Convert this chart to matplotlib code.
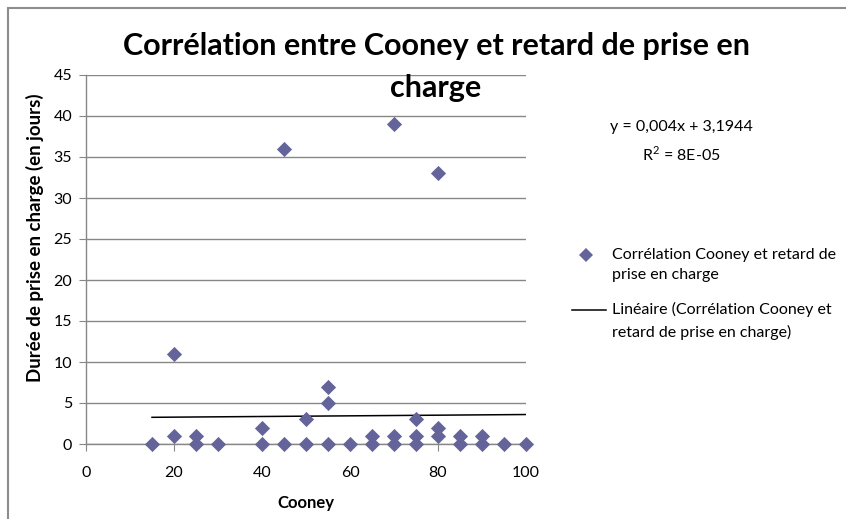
import matplotlib
matplotlib.use("Agg")
import matplotlib.pyplot as plt
from matplotlib.lines import Line2D
from matplotlib.patches import Rectangle

# ---- data ----
cooney = [15, 20, 20, 25, 25, 30, 40, 40, 45, 45, 50, 50, 55, 55, 55, 60, 65, 65,
          70, 70, 70, 75, 75, 75, 80, 80, 80, 85, 85, 90, 90, 95, 100]
duree = [0, 1, 11, 0, 1, 0, 0, 2, 0, 36, 0, 3, 0, 5, 7, 0, 0, 1,
         0, 1, 39, 0, 1, 3, 1, 2, 33, 0, 1, 0, 1, 0, 0]
trend_slope = 0.004
trend_intercept = 3.1944
x_ticks = [0, 20, 40, 60, 80, 100]
y_ticks = [0, 5, 10, 15, 20, 25, 30, 35, 40, 45]

title = "Corrélation entre Cooney et retard de prise en\ncharge"
xlabel = "Cooney"
ylabel = "Durée de prise en charge (en jours)"
series_label = "Corrélation Cooney et retard de\nprise en charge"
trend_label = "Linéaire (Corrélation Cooney et\nretard de prise en charge)"
eq_text = "y = 0,004x + 3,1944\nR$^2$ = 8E-05"

FONT = "Lato"
plt.rcParams['font.family'] = [FONT, 'DejaVu Sans']
plt.rcParams['mathtext.fontset'] = 'custom'
plt.rcParams['mathtext.rm'] = FONT

MARKER_C = "#64649a"
W, H = 846, 519
fig = plt.figure(figsize=(W / 100, H / 100), dpi=100)
fig.patch.set_facecolor("white")

def fx(px):
    return px / W

def fy(py):
    return 1 - py / H

# outer chart border (cropped at right/bottom)
fig.patches.append(Rectangle((fx(8), -0.1), 1.2, fy(8) + 0.1,
                             transform=fig.transFigure, fill=False,
                             edgecolor="#8c8c8c", linewidth=1.5))

ax = fig.add_axes([fx(86), fy(444), (526 - 86) / W, (444 - 75) / H])
grid_c = "#878787"
ax.set_xlim(0, 100)
ax.set_ylim(0, 45)
ax.set_xticks(x_ticks)
ax.set_yticks(y_ticks)
ax.yaxis.grid(True, color=grid_c, linewidth=1.0)
ax.set_axisbelow(True)
for s in ["top", "right"]:
    ax.spines[s].set_visible(False)
for s in ["left", "bottom"]:
    ax.spines[s].set_color(grid_c)
    ax.spines[s].set_linewidth(1.0)
ax.tick_params(axis="both", direction="out", length=5, color=grid_c,
               labelsize=11.5, pad=5)
ax.tick_params(axis="x", pad=11)

ax.scatter(cooney, duree, marker="D", s=60, color=MARKER_C, zorder=3,
           linewidths=0, clip_on=False)
xs = [min(cooney), max(cooney)]
ys = [trend_slope * v + trend_intercept for v in xs]
ax.plot(xs, ys, color="black", linewidth=1.1, zorder=2)

ax.set_xlabel(xlabel, fontsize=12, fontweight="bold", va="center")
ax.xaxis.set_label_coords((306 - 86) / 440, -(503 - 444) / 369)
ax.set_ylabel(ylabel, fontsize=13.5, fontweight="bold", va="center")
ax.yaxis.set_label_coords(-(86 - 35) / 440, (444 - 238) / 369)

fig.text(fx(436), fy(67), title, ha="center", va="center",
         fontsize=22, fontweight="bold", linespacing=1.6)

fig.text(fx(681), fy(142), eq_text, ha="center", va="center",
         fontsize=11.5, linespacing=1.75)

# legend (drawn as in the original: handle aligned with first label line)
fig.add_artist(Line2D([fx(586)], [fy(255)], marker="D", linestyle="none",
                      color=MARKER_C, markersize=7, markeredgewidth=0,
                      transform=fig.transFigure))
fig.text(fx(612), fy(265), series_label, ha="left", va="center",
         fontsize=11.5, linespacing=1.6)
fig.add_artist(Line2D([fx(572), fx(606)], [fy(310), fy(310)], color="black",
                      linewidth=1.1, transform=fig.transFigure))
fig.text(fx(612), fy(321), trend_label, ha="left", va="center",
         fontsize=11.5, linespacing=1.6)

fig.savefig("out.png", dpi=100)
